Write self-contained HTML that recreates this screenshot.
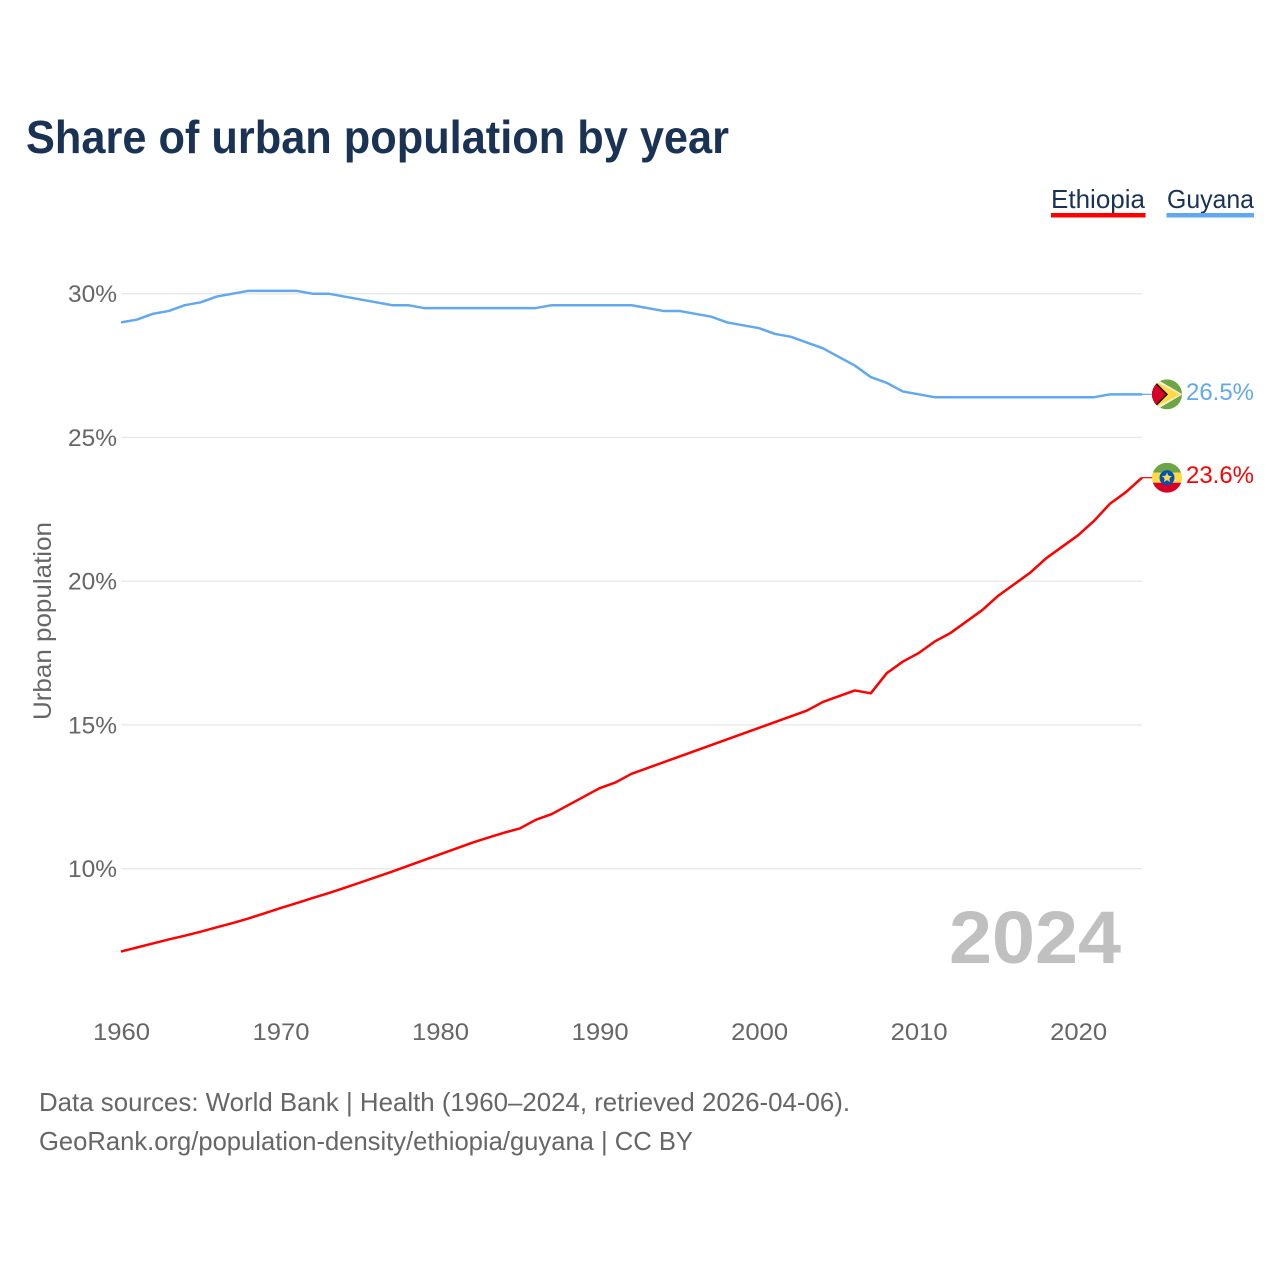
<!DOCTYPE html>
<html lang="en">
<head>
<meta charset="utf-8">
<title>Share of urban population by year</title>
<style>
html,body{margin:0;padding:0;background:#fff;}
svg{display:block;font-family:"Liberation Sans",Arial,sans-serif;}
</style>
</head>
<body>
<svg id="chart" width="1280" height="1280" viewBox="0 0 1280 1280" xmlns="http://www.w3.org/2000/svg">
  <defs>
    <clipPath id="clip-gy"><circle cx="0" cy="0" r="15"></circle></clipPath>
    <clipPath id="clip-et"><circle cx="0" cy="0" r="15"></circle></clipPath>
  </defs>
  <rect x="0" y="0" width="1280" height="1280" fill="#ffffff"></rect>
  <text x="26" y="153" font-size="46" font-weight="700" fill="#1a3355" textLength="703" lengthAdjust="spacingAndGlyphs">Share of urban population by year</text>

  <g>
    <g>
      <text x="1051" y="208" font-size="26" fill="#1a3355" textLength="94" lengthAdjust="spacingAndGlyphs">Ethiopia</text>
      <rect x="1051" y="213" width="94.500" height="4.500" fill="#ff0000"></rect>
    </g>
    <g>
      <text x="1167" y="208" font-size="26" fill="#1a3355" textLength="87" lengthAdjust="spacingAndGlyphs">Guyana</text>
      <rect x="1166.500" y="213" width="87.500" height="4.500" fill="#62a8ee"></rect>
    </g>
  </g>

  <text transform="translate(51,621) rotate(-90)" text-anchor="middle" font-size="25" fill="#666666" textLength="198" lengthAdjust="spacingAndGlyphs">Urban population</text>

  <g id="grid"></g>
  <g id="yticks"></g>
  <g id="xticks"></g>

  <text x="949" y="963" font-size="74" font-weight="700" fill="#c0c0c0" textLength="172" lengthAdjust="spacingAndGlyphs">2024</text>

  <g id="series"></g>

  <g id="flag-guyana">
    <g clip-path="url(#clip-gy)">
      <rect x="-15" y="-15" width="30" height="30" fill="#6da544"></rect>
      <polygon points="-14,-15 -10,-15 15.500,0 -10,15 -14,15" fill="#f4f0d8"></polygon>
      <polygon points="-13,-13.500 13.500,0 -13,13.500" fill="#ffda44"></polygon>
      <polygon points="-15,-13 -12,-13 1,0 -12,13 -15,13" fill="#111111"></polygon>
      <polygon points="-15,-11 -12,-11 -1,0 -12,11 -15,11" fill="#d80027"></polygon>
    </g>
  </g>
  <g id="flag-ethiopia">
    <g clip-path="url(#clip-et)">
      <rect x="-15" y="-15" width="30" height="10" fill="#6da544"></rect>
      <rect x="-15" y="-5" width="30" height="10" fill="#ffda44"></rect>
      <rect x="-15" y="5" width="30" height="10" fill="#d80027"></rect>
      <circle cx="0" cy="0" r="7.500" fill="#0052b4"></circle>
      <polygon points="0,-5.500 1.300,-1.800 5.200,-1.700 2.100,0.700 3.200,4.500 0,2.200 -3.200,4.500 -2.100,0.700 -5.200,-1.700 -1.300,-1.800" fill="#ffda44"></polygon>
      <circle cx="0" cy="0" r="2.800" fill="#ffda44"></circle>
    </g>
  </g>

  <text id="label-guyana" x="1186" font-size="24" fill="#62a8ee" textLength="68" lengthAdjust="spacingAndGlyphs"></text>
  <text id="label-ethiopia" x="1186" font-size="24" fill="#ff0000" textLength="68" lengthAdjust="spacingAndGlyphs"></text>

  <text x="39" y="1111" font-size="26" fill="#666666" textLength="811" lengthAdjust="spacingAndGlyphs">Data sources: World Bank | Health (1960–2024, retrieved 2026-04-06).</text>
  <text x="39" y="1150" font-size="26" fill="#666666" textLength="654" lengthAdjust="spacingAndGlyphs">GeoRank.org/population-density/ethiopia/guyana | CC BY</text>
</svg>

<script>
const startYear = 1960;
const xTickYears = [1960, 1970, 1980, 1990, 2000, 2010, 2020];
const yTickValues = [10, 15, 20, 25, 30];
const ethiopiaValues = [7.12, 7.26, 7.4, 7.54, 7.67, 7.81, 7.96, 8.11, 8.27, 8.45,
  8.63, 8.8, 8.98, 9.15, 9.33, 9.52, 9.71, 9.9, 10.1, 10.3,
  10.5, 10.7, 10.9, 11.08, 11.25, 11.4, 11.7, 11.9, 12.2, 12.5,
  12.8, 13.0, 13.3, 13.5, 13.7, 13.9, 14.1, 14.3, 14.5, 14.7,
  14.9, 15.1, 15.3, 15.5, 15.8, 16.0, 16.2, 16.1, 16.8, 17.2,
  17.5, 17.9, 18.2, 18.6, 19.0, 19.5, 19.9, 20.3, 20.8, 21.2,
  21.6, 22.1, 22.7, 23.1, 23.6];
const guyanaValues = [29.0, 29.1, 29.3, 29.4, 29.6, 29.7, 29.9, 30.0, 30.1, 30.1,
  30.1, 30.1, 30.0, 30.0, 29.9, 29.8, 29.7, 29.6, 29.6, 29.5,
  29.5, 29.5, 29.5, 29.5, 29.5, 29.5, 29.5, 29.6, 29.6, 29.6,
  29.6, 29.6, 29.6, 29.5, 29.4, 29.4, 29.3, 29.2, 29.0, 28.9,
  28.8, 28.6, 28.5, 28.3, 28.1, 27.8, 27.5, 27.1, 26.9, 26.6,
  26.5, 26.4, 26.4, 26.4, 26.4, 26.4, 26.4, 26.4, 26.4, 26.4,
  26.4, 26.4, 26.5, 26.5, 26.5];

const NS = 'http://www.w3.org/2000/svg';
function xScale(year) { return 121 + (year - 1960) * 15.953; }
function yScale(value) { return 293.7 + (30 - value) * 28.75; }
function make(tag, parent) {
  const el = document.createElementNS(NS, tag);
  parent.appendChild(el);
  return el;
}
const lastYear = startYear + ethiopiaValues.length - 1;

const grid = document.getElementById('grid');
const yticks = document.getElementById('yticks');
yTickValues.forEach(function (v) {
  const line = make('line', grid);
  
  
  line.setAttribute('x1', xScale(startYear));
  line.setAttribute('x2', xScale(lastYear));
  line.setAttribute('y1', yScale(v));
  line.setAttribute('y2', yScale(v));
  line.setAttribute('stroke', '#e9e9e9');
  line.setAttribute('stroke-width', '1.300');
  const t = make('text', yticks);
  
  
  t.setAttribute('x', 117);
  t.setAttribute('y', yScale(v) + 8.3);
  t.setAttribute('text-anchor', 'end');
  t.setAttribute('font-size', '24');
  t.setAttribute('fill', '#666666');
  t.setAttribute('textLength', '49');
  t.setAttribute('lengthAdjust', 'spacingAndGlyphs');
  t.textContent = v + '%';
});

const xticks = document.getElementById('xticks');
xTickYears.forEach(function (year) {
  const t = make('text', xticks);
  
  
  t.setAttribute('x', xScale(year) + 0.5);
  t.setAttribute('y', 1040);
  t.setAttribute('text-anchor', 'middle');
  t.setAttribute('font-size', '24');
  t.setAttribute('fill', '#666666');
  t.setAttribute('textLength', '57');
  t.setAttribute('lengthAdjust', 'spacingAndGlyphs');
  t.textContent = String(year);
});

const seriesGroup = document.getElementById('series');
function drawSeries(name, values, color, flagId, labelId) {
  const pts = values.map(function (v, i) {
    return xScale(startYear + i).toFixed(2) + ',' + yScale(v).toFixed(2);
  }).join(' ');
  const line = make('polyline', seriesGroup);
  
  
  line.setAttribute('points', pts);
  line.setAttribute('fill', 'none');
  line.setAttribute('stroke', color);
  line.setAttribute('stroke-width', '2.500');
  line.setAttribute('stroke-linejoin', 'round');
  const endValue = values[values.length - 1];
  const endY = yScale(endValue);
  const leader = make('line', seriesGroup);
  
  
  leader.setAttribute('x1', xScale(lastYear));
  leader.setAttribute('x2', xScale(lastYear) + 11);
  leader.setAttribute('y1', endY);
  leader.setAttribute('y2', endY);
  leader.setAttribute('stroke', color);
  leader.setAttribute('stroke-width', '1.200');
  document.getElementById(flagId).setAttribute('transform', 'translate(1167,' + endY.toFixed(2) + ')');
  const label = document.getElementById(labelId);
  label.setAttribute('y', (endY + 5.5).toFixed(2));
  label.textContent = endValue.toFixed(1) + '%';
}
drawSeries('ethiopia', ethiopiaValues, '#ff0000', 'flag-ethiopia', 'label-ethiopia');
drawSeries('guyana', guyanaValues, '#62a8ee', 'flag-guyana', 'label-guyana');
</script>
</body>
</html>
